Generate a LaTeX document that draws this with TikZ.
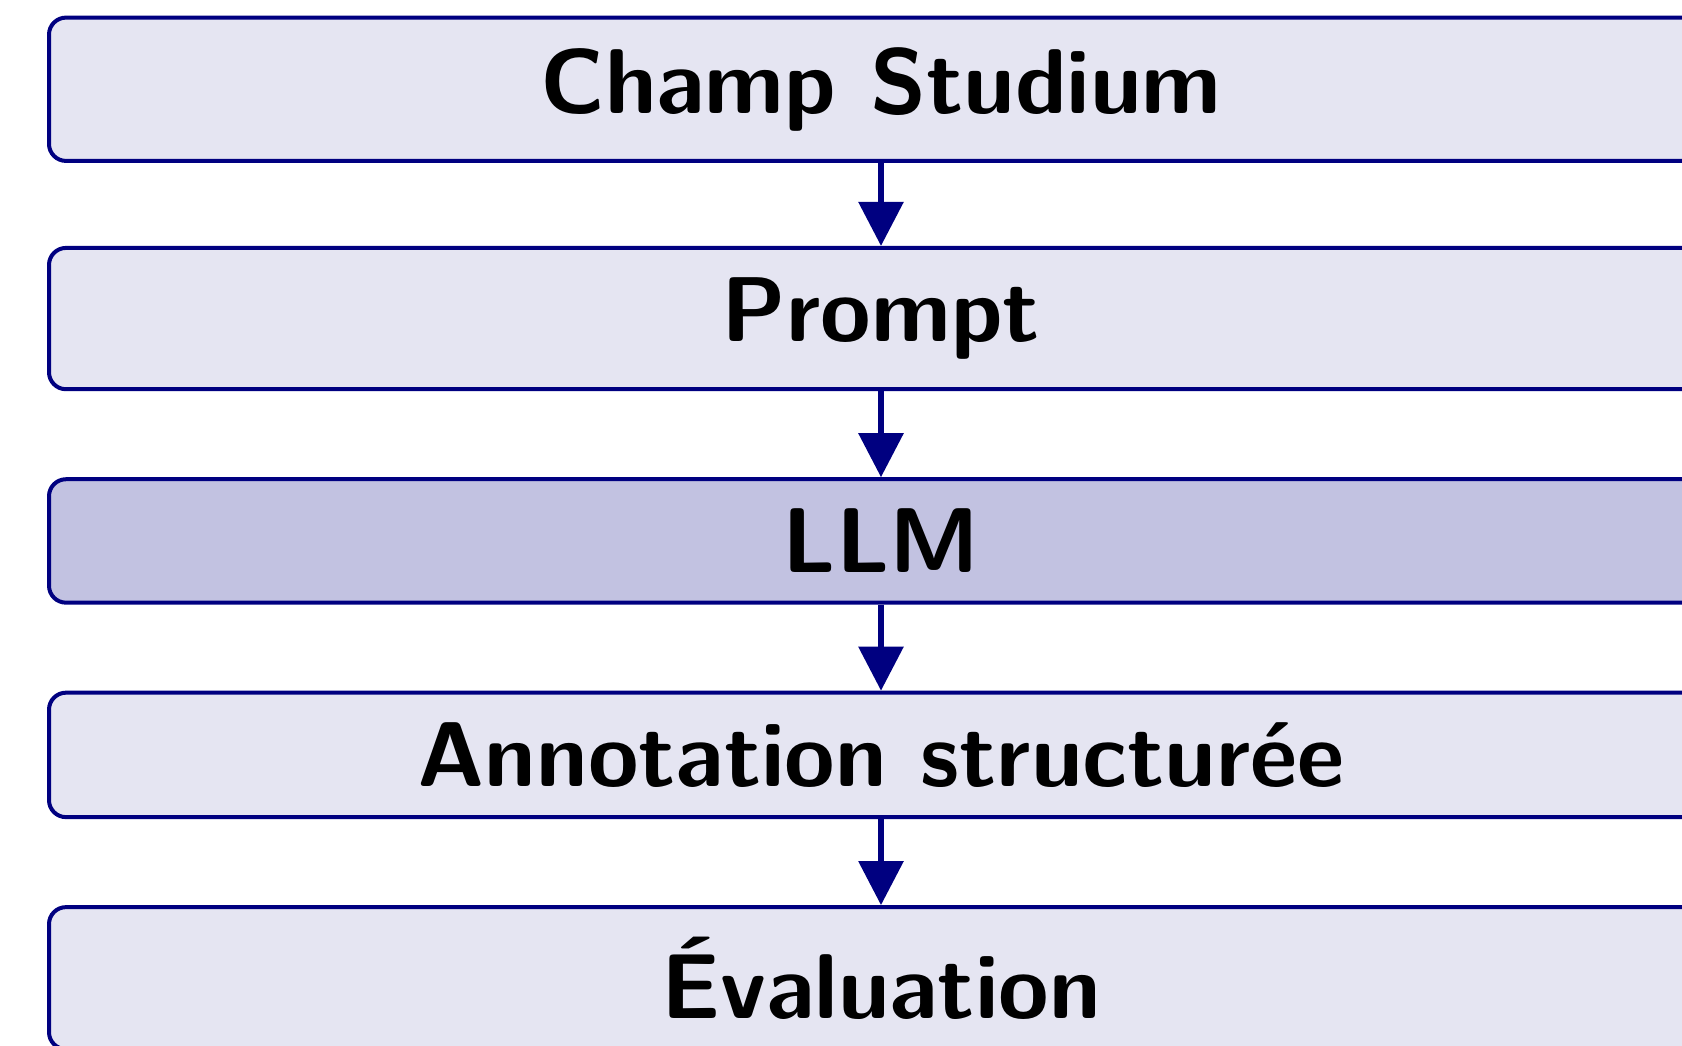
\documentclass[tikz,border=0pt]{standalone}
\usetikzlibrary{positioning,arrows.meta}
\definecolor{navy}{RGB}{0,0,128}
\begin{document}
\begin{tikzpicture}[
    stage/.style={draw=navy, line width=2pt, rounded corners=8.5pt, fill=navy!10,
        minimum width=832pt, inner ysep=14.9pt,
        font=\fontsize{46}{55}\selectfont\sffamily\bfseries},
    core/.style={stage, fill=navy!24},
    flow/.style={navy, line width=3pt, -{Stealth[inset=0pt,length=22pt,width=22pt]}},
    node distance=43pt]
    \useasboundingbox (0,0) rectangle (841pt,-522.5pt);
    \node[stage, anchor=north] (champ) at (440.5pt,-7.8pt) {Champ Studium};
    \node[stage, below=of champ, yshift=1.5pt] (prompt) {Prompt};
    \node[core, below=of prompt] (llm) {LLM};
    \node[stage, below=of llm] (annot) {Annotation structurée};
    \node[stage, below=of annot] (eval) {Évaluation};
    \draw[flow] (champ) -- (prompt);
    \draw[flow] (prompt) -- (llm);
    \draw[flow] (llm) -- (annot);
    \draw[flow] (annot) -- (eval);
\end{tikzpicture}
\end{document}
